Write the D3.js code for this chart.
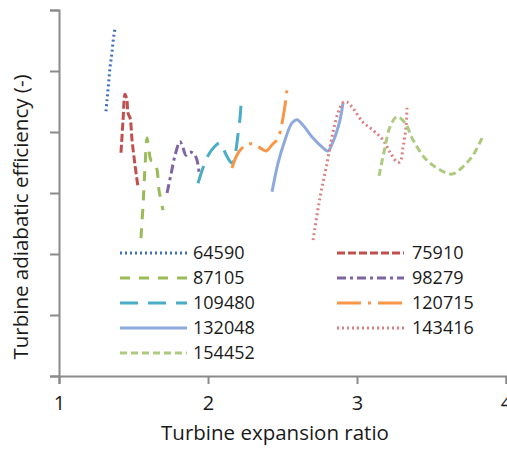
<!DOCTYPE html>
<html>
<head>
<meta charset="utf-8">
<script src="https://cdn.jsdelivr.net/npm/d3@7"></script>
<style>
  body { margin: 0; background: #fff; }
  text { font-family: "Open Sans", sans-serif; fill: #1a1a1a; }
</style>
</head>
<body>
<script>
var width = 507, height = 449;
var margin = {top: 10, right: 1, bottom: 73, left: 59};

// series names (mass flow cases)
var seriesNames = ["64590", "75910", "87105", "98279", "109480", "120715", "132048", "143416", "154452"];

// expansion ratio / efficiency pairs
var ratio64590 = [1.315, 1.322, 1.329, 1.336, 1.342, 1.349, 1.356, 1.362, 1.369, 1.376];
var eff64590   = [0.634, 0.652, 0.669, 0.689, 0.705, 0.718, 0.731, 0.746, 0.759, 0.770];

var ratio75910 = [1.416, 1.430, 1.443, 1.456, 1.463, 1.477, 1.490, 1.510, 1.530];
var eff75910   = [0.566, 0.620, 0.662, 0.652, 0.631, 0.623, 0.587, 0.546, 0.510];

var ratio87105 = [1.550, 1.564, 1.577, 1.591, 1.604, 1.617, 1.638, 1.658, 1.671, 1.698];
var eff87105   = [0.426, 0.480, 0.541, 0.590, 0.570, 0.554, 0.551, 0.538, 0.505, 0.472];

var ratio98279 = [1.725, 1.752, 1.779, 1.812, 1.832, 1.852, 1.879, 1.906, 1.926, 1.940];
var eff98279   = [0.500, 0.531, 0.562, 0.584, 0.574, 0.562, 0.567, 0.564, 0.554, 0.534];

var ratio109480 = [1.933, 1.966, 2.000, 2.040, 2.081, 2.107, 2.134, 2.161, 2.181, 2.201, 2.215, 2.221];
var eff109480   = [0.516, 0.541, 0.561, 0.575, 0.582, 0.570, 0.557, 0.549, 0.562, 0.595, 0.623, 0.643];

var ratio120715 = [2.161, 2.188, 2.215, 2.262, 2.309, 2.349, 2.389, 2.430, 2.470, 2.497, 2.517, 2.530];
var eff120715   = [0.541, 0.559, 0.570, 0.580, 0.580, 0.574, 0.569, 0.579, 0.590, 0.615, 0.644, 0.669];

var ratio132048 = [2.430, 2.470, 2.517, 2.564, 2.597, 2.638, 2.705, 2.772, 2.805, 2.839, 2.886, 2.906];
var eff132048   = [0.502, 0.549, 0.587, 0.615, 0.620, 0.611, 0.590, 0.574, 0.569, 0.584, 0.620, 0.648];

var ratio143416 = [2.705, 2.752, 2.799, 2.832, 2.872, 2.906, 2.933, 2.973, 3.040, 3.107, 3.174, 3.221, 3.268, 3.289, 3.309, 3.329, 3.336];
var eff143416   = [0.423, 0.493, 0.549, 0.592, 0.631, 0.648, 0.649, 0.639, 0.616, 0.603, 0.587, 0.567, 0.551, 0.551, 0.575, 0.608, 0.644];

var ratio154452 = [3.148, 3.188, 3.221, 3.268, 3.322, 3.376, 3.456, 3.537, 3.638, 3.711, 3.779, 3.839];
var eff154452   = [0.528, 0.575, 0.608, 0.625, 0.615, 0.587, 0.557, 0.541, 0.531, 0.543, 0.562, 0.590];

var xTicks = [1, 2, 3, 4];
var yTicks = [0.2, 0.3, 0.4, 0.5, 0.6, 0.7, 0.8];

var ratios = [ratio64590, ratio75910, ratio87105, ratio98279, ratio109480, ratio120715, ratio132048, ratio143416, ratio154452];
var effs = [eff64590, eff75910, eff87105, eff98279, eff109480, eff120715, eff132048, eff143416, eff154452];

// line styles, same order as seriesNames
var colors = ["#3f6fc2", "#c0504d", "#9bbb59", "#8064a2", "#4bacc6", "#f79646", "#8ea9db", "#de7f81", "#accb7e"];
var dashes = ["2,3", "8,3", "10,9", "9,4,3,4", "18,10", "24,7,3,7", null, "2,3", "7,4"];

var series = seriesNames.map(function(name, i) {
    return {
        name: name,
        color: colors[i],
        dash: dashes[i],
        values: ratios[i].map(function(r, j) { return {x: r, y: effs[i][j]}; })
    };
});

var svg = d3.select("body").append("svg")
    .attr("width", width)
    .attr("height", height);

var x = d3.scaleLinear().domain([1, 4]).range([margin.left, 506]);
var y = d3.scaleLinear().domain([0.2, 0.8]).range([height - margin.bottom, margin.top]);

// axes
var xAxis = svg.append("g")
    .attr("transform", "translate(0," + y(0.2) + ")")
    .call(d3.axisBottom(x).tickValues(xTicks).tickFormat(d3.format("d")).tickSizeOuter(0).tickSize(8).tickPadding(12));

var yAxis = svg.append("g")
    .attr("transform", "translate(" + x(1) + ",0)")
    .call(d3.axisLeft(y).tickValues(yTicks).tickFormat("").tickSizeOuter(0).tickSize(9));

svg.selectAll(".domain, .tick line")
    .attr("stroke", "#8a8a8a")
    .attr("stroke-width", 2);

xAxis.selectAll("text")
    .style("font-size", "20px")
    .style("font-family", "'Open Sans', sans-serif")
    .attr("fill", "#1a1a1a");

// titles
svg.append("text")
    .attr("x", 275)
    .attr("y", 440)
    .attr("text-anchor", "middle")
    .style("font-size", "20.5px")
    .text("Turbine expansion ratio");

svg.append("text")
    .attr("transform", "translate(28,217) rotate(-90)")
    .attr("text-anchor", "middle")
    .style("font-size", "20.5px")
    .text("Turbine adiabatic efficiency (-)");

// curves
var line = d3.line()
    .x(function(d) { return x(d.x); })
    .y(function(d) { return y(d.y); })
    .curve(d3.curveCatmullRom.alpha(0.5));

svg.selectAll(".series")
    .data(series)
  .enter().append("path")
    .attr("class", "series")
    .attr("d", function(d) { return line(d.values); })
    .attr("fill", "none")
    .attr("stroke", function(d) { return d.color; })
    .attr("stroke-width", 3)
    .attr("stroke-dasharray", function(d) { return d.dash; });

// legend, two columns
var legend = svg.selectAll(".legend")
    .data(series)
  .enter().append("g")
    .attr("class", "legend")
    .attr("transform", function(d, i) {
        var col = i % 2, row = Math.floor(i / 2);
        return "translate(" + (col === 0 ? 120 : 337) + "," + (253 + row * 25) + ")";
    });

legend.append("line")
    .attr("x1", 0)
    .attr("x2", 67)
    .attr("stroke", function(d) { return d.color; })
    .attr("stroke-width", 3)
    .attr("stroke-dasharray", function(d) { return d.dash; });

legend.append("text")
    .attr("x", function(d, i) { return i % 2 === 0 ? 73 : 75; })
    .attr("dy", "0.35em")
    .style("font-size", "18px")
    .text(function(d) { return d.name; });
</script>
</body>
</html>
